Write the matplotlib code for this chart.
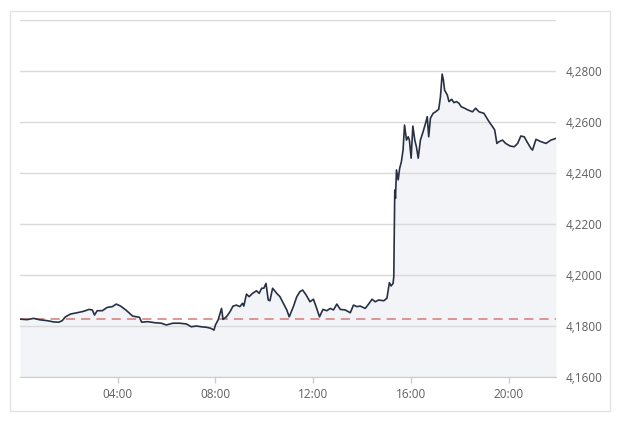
import numpy as np
import matplotlib
matplotlib.use('Agg')
import matplotlib.pyplot as plt
from matplotlib.patches import Rectangle
from matplotlib.ticker import FixedLocator, FuncFormatter

# intraday price, hours since midnight
hours = [0.00, 0.29, 0.56, 0.83, 1.11, 1.38, 1.59, 1.73, 1.86, 2.07,
         2.34, 2.62, 2.82, 2.96, 3.05, 3.16, 3.37, 3.57, 3.78, 3.94,
         4.12, 4.33, 4.41, 4.61, 4.89, 4.98, 5.23, 5.51, 5.78, 5.99,
         6.26, 6.53, 6.81, 7.01, 7.22, 7.42, 7.63, 7.81, 7.94, 8.00,
         8.11, 8.25, 8.31, 8.45, 8.59, 8.72, 8.86, 9.00, 9.11, 9.16,
         9.27, 9.38, 9.52, 9.68, 9.79, 9.89, 9.98, 10.07, 10.16, 10.23,
         10.34, 10.51, 10.64, 10.78, 10.92, 11.02, 11.19, 11.33, 11.46, 11.57,
         11.71, 11.87, 12.01, 12.12, 12.26, 12.40, 12.56, 12.70, 12.83, 12.97,
         13.11, 13.31, 13.52, 13.65, 13.79, 13.93, 14.13, 14.27, 14.41, 14.54,
         14.68, 14.89, 15.02, 15.12, 15.19, 15.27, 15.30, 15.34, 15.37, 15.41,
         15.48, 15.54, 15.61, 15.68, 15.74, 15.82, 15.89, 15.94, 16.01, 16.08,
         16.16, 16.23, 16.30, 16.39, 16.50, 16.60, 16.67, 16.73, 16.80, 16.91,
         17.01, 17.14, 17.21, 17.28, 17.33, 17.38, 17.49, 17.56, 17.67, 17.76,
         17.87, 17.97, 18.06, 18.20, 18.34, 18.52, 18.65, 18.79, 18.99, 19.20,
         19.34, 19.43, 19.52, 19.61, 19.75, 19.88, 20.06, 20.23, 20.37, 20.50,
         20.64, 20.75, 20.91, 20.98, 21.12, 21.32, 21.53, 21.73, 21.94]
price = [4.1827, 4.1825, 4.1830, 4.1824, 4.1821, 4.1816, 4.1815, 4.1821, 4.1836, 4.1847,
         4.1852, 4.1858, 4.1865, 4.1863, 4.1843, 4.1860, 4.1860, 4.1873, 4.1876, 4.1886,
         4.1878, 4.1863, 4.1856, 4.1839, 4.1834, 4.1815, 4.1817, 4.1813, 4.1811, 4.1804,
         4.1811, 4.1811, 4.1808, 4.1797, 4.1800, 4.1797, 4.1795, 4.1791, 4.1784, 4.1804,
         4.1824, 4.1869, 4.1826, 4.1836, 4.1855, 4.1878, 4.1882, 4.1876, 4.1889, 4.1878,
         4.1925, 4.1915, 4.1928, 4.1938, 4.1928, 4.1948, 4.1948, 4.1967, 4.1902, 4.1899,
         4.1948, 4.1928, 4.1915, 4.1889, 4.1863, 4.1836, 4.1876, 4.1915, 4.1935, 4.1941,
         4.1922, 4.1895, 4.1905, 4.1876, 4.1836, 4.1865, 4.1860, 4.1869, 4.1863, 4.1886,
         4.1865, 4.1863, 4.1852, 4.1882, 4.1876, 4.1878, 4.1869, 4.1886, 4.1905, 4.1895,
         4.1902, 4.1899, 4.1909, 4.1970, 4.1957, 4.1967, 4.1993, 4.2333, 4.2301, 4.2412,
         4.2373, 4.2418, 4.2444, 4.2490, 4.2588, 4.2529, 4.2542, 4.2529, 4.2458, 4.2584,
         4.2529, 4.2501, 4.2458, 4.2529, 4.2562, 4.2595, 4.2621, 4.2542, 4.2615, 4.2634,
         4.2640, 4.2650, 4.2699, 4.2788, 4.2765, 4.2725, 4.2706, 4.2680, 4.2689, 4.2676,
         4.2680, 4.2673, 4.2660, 4.2654, 4.2647, 4.2640, 4.2654, 4.2640, 4.2634, 4.2601,
         4.2582, 4.2569, 4.2516, 4.2523, 4.2529, 4.2516, 4.2506, 4.2503, 4.2516, 4.2545,
         4.2542, 4.2523, 4.2497, 4.2490, 4.2532, 4.2523, 4.2516, 4.2529, 4.2536]
prev_close = 4.1826

x_ticks = [4, 8, 12, 16, 20]
x_labels = ['04:00', '08:00', '12:00', '16:00', '20:00']
y_ticks = [4.16, 4.18, 4.20, 4.22, 4.24, 4.26, 4.28, 4.30]

plt.rcParams['font.family'] = ['Open Sans', 'DejaVu Sans']

fig = plt.figure(figsize=(6.17, 4.21), dpi=100)
fig.patches.append(Rectangle((10 / 617, 10 / 421), 600 / 617, 400 / 421,
                             transform=fig.transFigure, fill=False,
                             edgecolor='#e2e2e2', linewidth=1))
ax = fig.add_axes([20 / 617, 44 / 421, 536 / 617, 357 / 421])

ax.fill_between(hours, price, 4.16, color='#f3f4f7', zorder=0.2, linewidth=0)
ax.plot(hours, price, color='#283044', linewidth=1.2, zorder=3)
ax.axhline(prev_close, color='#d47a78', linewidth=1.1, dashes=(6, 4), zorder=2)

ax.set_xlim(0, hours[-1])
ax.set_ylim(4.16, 4.30)

ax.yaxis.set_major_locator(FixedLocator(y_ticks))
ax.yaxis.set_major_formatter(FuncFormatter(
    lambda v, p: '' if v > 4.29 else f'{v:.4f}'.replace('.', ',')))
ax.yaxis.tick_right()
ax.tick_params(axis='y', length=0, pad=7, labelsize=8.5, labelcolor='#5f5f5f')
ax.set_xticks(x_ticks)
ax.set_xticklabels(x_labels)
ax.tick_params(axis='x', length=4, width=1, color='#cccccc', pad=4,
               labelsize=8.5, labelcolor='#5f5f5f')

ax.grid(axis='y', color='#dadada', linewidth=1, zorder=0.5)
ax.set_axisbelow(True)
for side in ['top', 'left', 'right']:
    ax.spines[side].set_visible(False)
ax.spines['bottom'].set_color('#cccccc')
ax.set_facecolor('white')

fig.savefig('out.png', dpi=100)
